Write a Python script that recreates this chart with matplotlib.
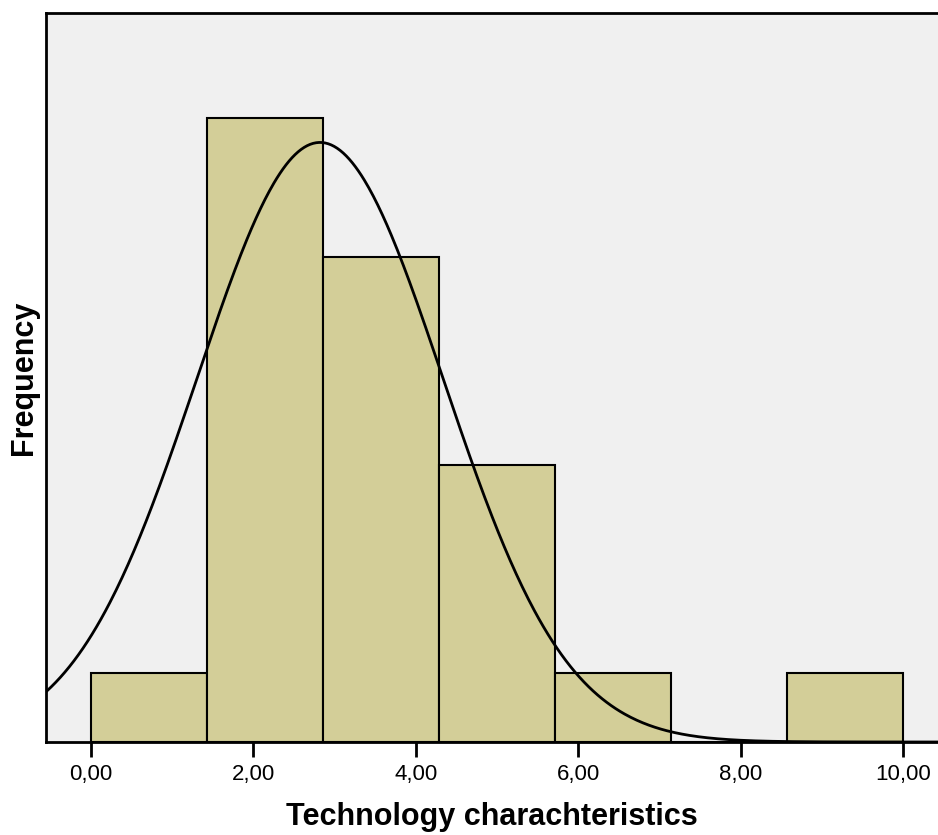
import numpy as np
import matplotlib
matplotlib.use("Agg")
import matplotlib.pyplot as plt

# Histogram bins (7 equal bins over 0..10) and counts per bin
bin_edges = [0.0, 10/7, 20/7, 30/7, 40/7, 50/7, 60/7, 10.0]
counts = [1, 9, 7, 4, 1, 0, 1]

# Fitted normal curve parameters
mean = 2.82
std_dev = 1.515
n_total = sum(counts)

tick_values = [0, 2, 4, 6, 8, 10]
tick_labels = ["0,00", "2,00", "4,00", "6,00", "8,00", "10,00"]

plt.rcParams['font.family'] = ['Liberation Sans', 'DejaVu Sans']

fig = plt.figure(figsize=(9.38, 8.35), dpi=100)
ax = fig.add_axes([46/938, 1 - 742/835, 1 - 46/938, (742 - 13)/835])
ax.set_facecolor('#F0F0F0')

widths = np.diff(bin_edges)
ax.bar(bin_edges[:-1], counts, width=widths, align='edge',
       color='#D3CE98', edgecolor='black', linewidth=1.5, zorder=2)

bw = widths[0]
xs = np.linspace(-0.6, 10.5, 600)
ys = n_total * bw / (std_dev * np.sqrt(2 * np.pi)) * np.exp(-0.5 * ((xs - mean) / std_dev) ** 2)
ax.plot(xs, ys, color='black', linewidth=2, zorder=3)

ax.set_xlim(-0.554, 10.43)
ax.set_ylim(0, 10.52)

ax.set_xticks(tick_values)
ax.set_xticklabels(tick_labels, fontsize=16)
ax.tick_params(axis='x', length=11, width=2, pad=5, color='black')
ax.set_yticks([])

for side in ['left', 'top', 'bottom']:
    ax.spines[side].set_linewidth(2)
ax.spines['right'].set_visible(False)

ax.set_xlabel("Technology charachteristics", fontsize=22, fontweight='bold', labelpad=12)
ax.set_ylabel("Frequency", fontsize=22, fontweight='bold', labelpad=5)

fig.savefig("out.png", dpi=100)
